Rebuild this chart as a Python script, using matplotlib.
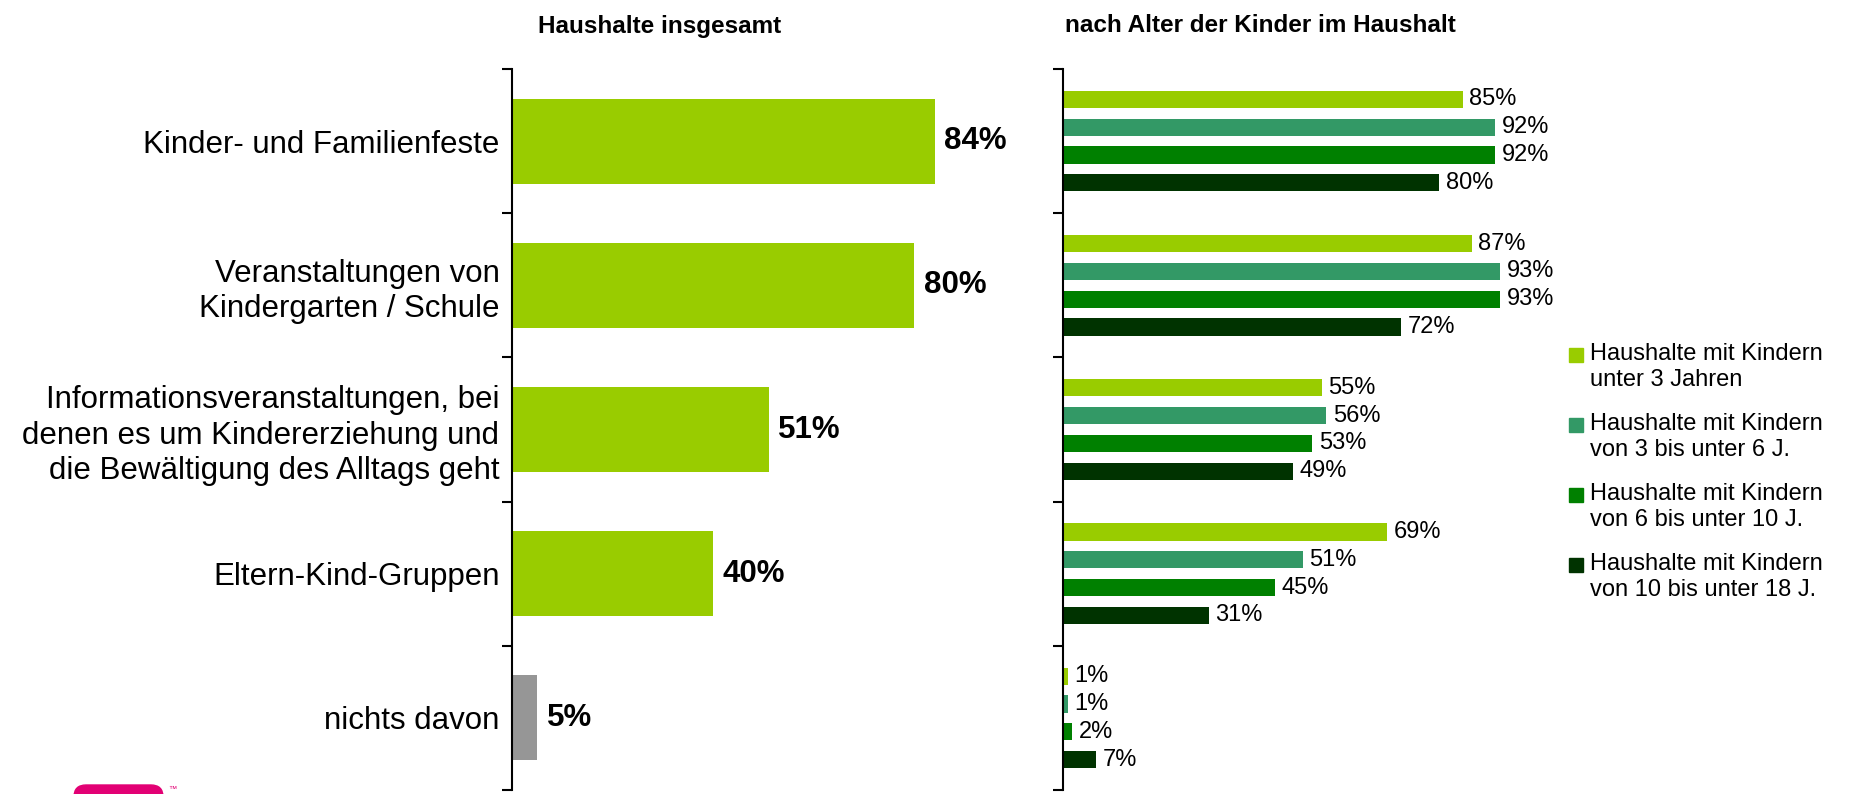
import matplotlib.pyplot as plt
import numpy as np
from matplotlib.patches import Rectangle, FancyBboxPatch
from matplotlib.transforms import IdentityTransform

plt.rcParams['font.family'] = ['Liberation Sans', 'DejaVu Sans']

# data
categories = ['Kinder- und Familienfeste',
              'Veranstaltungen von\nKindergarten / Schule',
              'Informationsveranstaltungen, bei\ndenen es um Kindererziehung und\ndie Bewältigung des Alltags geht',
              'Eltern-Kind-Gruppen',
              'nichts davon']
total = [84, 80, 51, 40, 5]

age_groups = ['Haushalte mit Kindern\nunter 3 Jahren',
              'Haushalte mit Kindern\nvon 3 bis unter 6 J.',
              'Haushalte mit Kindern\nvon 6 bis unter 10 J.',
              'Haushalte mit Kindern\nvon 10 bis unter 18 J.']
under3 = [85, 87, 55, 69, 1]
age3_6 = [92, 93, 56, 51, 1]
age6_10 = [92, 93, 53, 45, 2]
age10_18 = [80, 72, 49, 31, 7]

colors = ['#99CC00', '#339966', '#008000', '#003300']
W, H = 1854, 794

fig = plt.figure(figsize=(W / 100, H / 100), dpi=100)

y = np.arange(len(categories))


def style_axis(ax):
    ax.set_xlim(0, 100)
    ax.set_ylim(len(categories) - 0.5, -0.5)
    for s in ['top', 'right', 'bottom']:
        ax.spines[s].set_visible(False)
    ax.spines['left'].set_linewidth(1.5)
    ax.set_xticks([])
    ax.set_yticks(np.arange(-0.5, len(categories), 1))
    ax.set_yticklabels([])
    ax.tick_params(axis='y', which='major', direction='out', length=7.5, width=1.5)


# left panel: all households
ax1 = fig.add_axes([512 / W, 4 / H, 503 / W, 721 / H])
bar_cols = ['#99CC00'] * 4 + ['#969696']
ax1.barh(y, total, height=0.59, color=bar_cols)
style_axis(ax1)
ax1.set_yticks(y, minor=True)
ax1.set_yticklabels(categories, minor=True, fontsize=22.5, linespacing=1.22)
ax1.tick_params(axis='y', which='minor', length=0, pad=9)
for i, v in enumerate(total):
    ax1.text(v + 1.9, i, f'{v}%', va='center', ha='left', fontsize=22.5, fontweight='bold')

# right panel: by age of children
ax2 = fig.add_axes([1063 / W, 4 / H, 470 / W, 721 / H])
series = [under3, age3_6, age6_10, age10_18]
offs = (np.arange(4) - 1.5) * 0.193
for k, vals in enumerate(series):
    ax2.barh(y + offs[k], vals, height=0.12, color=colors[k])
    for i, v in enumerate(vals):
        ax2.text(v + 1.4, i + offs[k], f'{v}%', va='center', ha='left', fontsize=17)
style_axis(ax2)

# titles
fig.text(660 / W, 1 - 26 / H, 'Haushalte insgesamt', ha='center', va='center',
         fontsize=17.5, fontweight='bold')
fig.text(1065 / W, 1 - 26 / H, 'nach Alter der Kinder im Haushalt', ha='left', va='center',
         fontsize=17.5, fontweight='bold')

# legend
for k, lab in enumerate(age_groups):
    yc = 355 + 70 * k
    fig.patches.append(Rectangle(((1569) / W, 1 - (yc + 7) / H), 14 / W, 14 / H,
                                 transform=fig.transFigure, color=colors[k]))
    fig.text(1590 / W, 1 - (yc - 12) / H, lab, ha='left', va='top', fontsize=17,
             linespacing=1.25)

# logo fragment at bottom
fig.patches.append(FancyBboxPatch((74, -40), 89, 49, boxstyle='round,pad=0,rounding_size=12',
                                  transform=IdentityTransform(), color='#E20074'))
fig.text(168 / W, 3 / H, '™', fontsize=6, color='#E20074')

fig.savefig('out.png', dpi=100)
